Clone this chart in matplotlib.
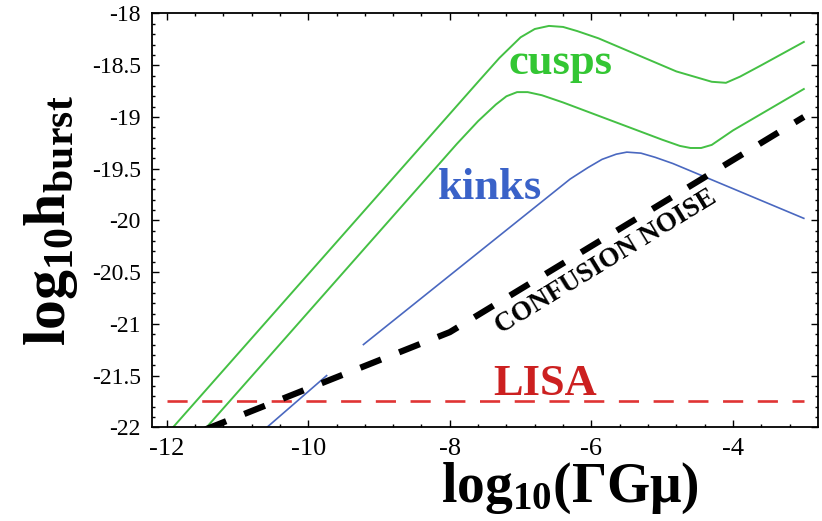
import numpy as np
import matplotlib
matplotlib.use("Agg")
import matplotlib.pyplot as plt

plt.rcParams['font.family'] = 'serif'
plt.rcParams['font.serif'] = ['Liberation Serif', 'DejaVu Serif']
plt.rcParams['mathtext.fontset'] = 'custom'
plt.rcParams['mathtext.rm'] = 'Liberation Serif'
plt.rcParams['mathtext.bf'] = 'Liberation Serif:bold'
plt.rcParams['mathtext.it'] = 'Liberation Serif:italic'
plt.rcParams['axes.unicode_minus'] = False
plt.rcParams['lines.scale_dashes'] = False

# values: log10(Gamma G mu) vs log10 h_burst
cusp_hi_x = [-12.0, -7.6, -7.3, -7.0, -6.8, -6.6, -6.4, -6.2, -5.9, -4.8, -4.5, -4.3,
             -4.1, -3.9, -3.6, -3.0]
cusp_hi_y = [-22.07, -18.66, -18.43, -18.23, -18.15, -18.12, -18.13, -18.17, -18.24,
             -18.56, -18.62, -18.66, -18.67, -18.61, -18.50, -18.275]

cusp_lo_x = [-11.5, -7.9, -7.6, -7.35, -7.2, -7.05, -6.9, -6.7, -6.4, -5.0, -4.75,
             -4.6, -4.45, -4.3, -4.0, -3.0]
cusp_lo_y = [-22.05, -19.26, -19.04, -18.88, -18.80, -18.76, -18.76, -18.79, -18.86,
             -19.22, -19.28, -19.30, -19.30, -19.27, -19.13, -18.73]

kink_lo_x = [-10.65, -9.74]
kink_lo_y = [-22.04, -21.50]
kink_x = [-9.22, -6.3, -6.05, -5.85, -5.65, -5.5, -5.3, -5.1, -4.85, -4.5, -3.0]
kink_y = [-21.2, -19.60, -19.49, -19.41, -19.36, -19.34, -19.35, -19.39, -19.45,
          -19.55, -19.98]

noise_x = [-11.45, -8.0, -3.0]
noise_y = [-22.02, -21.08, -19.0]

lisa_x = [-12.0, -3.0]
lisa_y = [-21.75, -21.75]

green = '#44c044'
blue = '#4a68c0'

fig = plt.figure(figsize=(8.22, 5.21), dpi=100)
ax = fig.add_axes([0.1846, 0.1798, 0.8105, 0.7943])

ax.plot(cusp_hi_x, cusp_hi_y, color=green, lw=1.4)
ax.plot(cusp_lo_x, cusp_lo_y, color=green, lw=1.4)
ax.plot(kink_lo_x, kink_lo_y, color=blue, lw=1.2)
ax.plot(kink_x, kink_y, color=blue, lw=1.2)
ax.plot(lisa_x, lisa_y, color='#e03434', lw=1.9, dashes=(14.5, 10.5))
ax.plot(noise_x, noise_y, color='black', lw=4.5, dashes=(16, 14),
        dash_capstyle='butt')

ax.text(-6.44, -18.585, 'cusps', color='#33c633', fontsize=32, fontweight='bold',
        ha='center', va='baseline')
ax.text(-7.43, -19.79, 'kinks', color='#3a62c8', fontsize=32, fontweight='bold',
        ha='center', va='baseline')
ax.text(-6.66, -21.69, 'LISA', color='#cc2020', fontsize=32, fontweight='bold',
        ha='center', va='baseline')
ax.text(-5.8, -20.40, 'CONFUSION NOISE', color='black', fontsize=19.5,
        fontweight='bold', ha='center', va='center', rotation=31.5,
        rotation_mode='anchor')

ax.set_xlim(-12.21, -2.80)
ax.set_ylim(-22, -18)
ax.set_xticks([-12, -10, -8, -6, -4])
ax.set_xticks(np.arange(-12.0, -2.8, 0.4), minor=True)
ax.set_yticks(np.arange(-22, -17.9, 0.5))
ax.set_yticks(np.arange(-22, -17.95, 0.1), minor=True)
ax.set_yticklabels(['-22', '-21.5', '-21', '-20.5', '-20', '-19.5', '-19', '-18.5', '-18'])
ax.tick_params(which='both', direction='in', top=True, right=True, width=1.0)
ax.tick_params(which='major', length=5)
ax.tick_params(which='minor', length=2.5)
ax.tick_params(axis='x', labelsize=19, pad=8)
ax.tick_params(axis='y', labelsize=17, pad=8)
for s in ax.spines.values():
    s.set_linewidth(1.3)

ax.set_xlabel(r'$\mathbf{log_{10}(\Gamma G\mu)}$', fontsize=40)
ax.xaxis.set_label_coords(0.628, -0.1805)
ax.xaxis.label.set_va('baseline')
ax.set_ylabel(r'$\mathbf{log_{10}h_{burst}}$', fontsize=43)
ax.yaxis.set_label_coords(-0.108, 0.5)

fig.savefig('out.png', dpi=100)
